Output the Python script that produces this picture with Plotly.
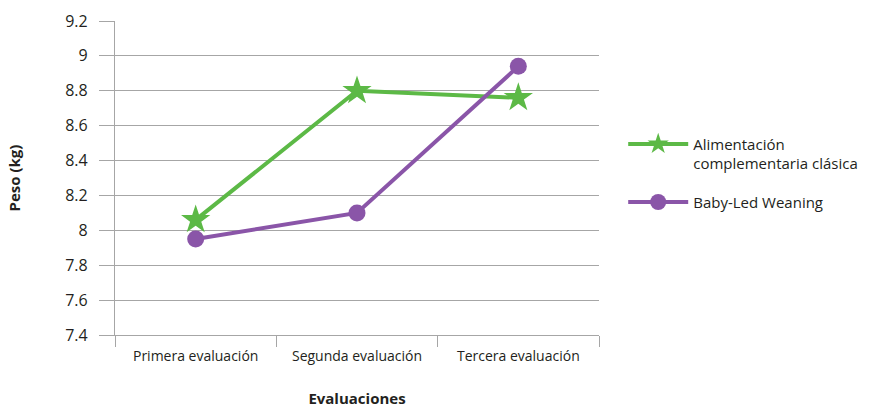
import plotly.graph_objects as go

categorias = ["Primera evaluación", "Segunda evaluación", "Tercera evaluación"]
clasica = [8.06, 8.80, 8.76]
blw = [7.95, 8.10, 8.94]
y_ticks = [7.4, 7.6, 7.8, 8.0, 8.2, 8.4, 8.6, 8.8, 9.0, 9.2]

verde = "#5cb946"
morado = "#8a55a8"
gris = "#a6a6a6"
fuente = "Open Sans"

fig = go.Figure()
fig.add_trace(go.Scatter(
    x=categorias, y=clasica, name="Alimentación<br>complementaria clásica",
    legendgroup="clasica",
    mode="lines+markers",
    line=dict(color=verde, width=4),
    marker=dict(symbol="star", size=22, color=verde),
))
fig.add_trace(go.Scatter(
    x=categorias, y=blw, name="Baby-Led Weaning",
    legendgroup="blw",
    mode="lines+markers",
    line=dict(color=morado, width=4),
    marker=dict(symbol="circle", size=17, color=morado),
))

fig.update_layout(
    width=879, height=408,
    margin=dict(l=115, r=280, t=21, b=73),
    paper_bgcolor="white", plot_bgcolor="white",
    font=dict(family=fuente, color="#231f20"),
    showlegend=True,
    legend=dict(
        x=1.05, y=0.66, xanchor="left", yanchor="top",
        font=dict(size=15, family=fuente, color="#231f20"),
        valign="top", itemwidth=60, traceorder="grouped", tracegroupgap=16,
    ),
)
fig.update_xaxes(
    type="category", range=[-0.5, 2.5], automargin=False,
    tickson="boundaries", ticks="outside", ticklen=11, tickcolor=gris, tickwidth=1.3,
    showline=True, linecolor=gris, linewidth=1.3,
    showgrid=False,
    tickfont=dict(size=14, family=fuente, color="#231f20"),
    ticklabelstandoff=8,
    title=dict(text="<b>Evaluaciones</b>", font=dict(size=15, family=fuente), standoff=31),
)
fig.update_yaxes(
    range=[7.4, 9.2], tickvals=y_ticks, ticktext=[f"{v:g}" for v in y_ticks],
    automargin=False,
    ticks="outside", ticklen=15, tickcolor=gris, tickwidth=1.3,
    showline=True, linecolor=gris, linewidth=1.3,
    showgrid=True, gridcolor=gris, gridwidth=1.3,
    zeroline=False,
    tickfont=dict(size=16, family=fuente, color="#231f20"),
    ticklabelstandoff=8,
    title=dict(text="<b>Peso (kg)</b>", font=dict(size=15, family=fuente), standoff=40),
)

fig.write_html("out.html")
